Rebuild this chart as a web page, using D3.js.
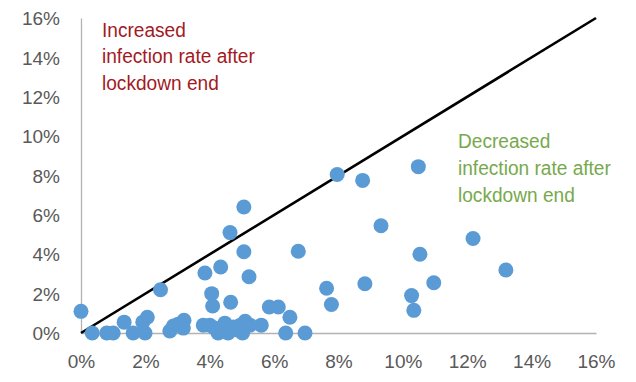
<!DOCTYPE html>
<html><head><meta charset="utf-8">
<script src="https://cdn.jsdelivr.net/npm/d3@7"></script>
<style>body{margin:0;background:#fff}svg{display:block}</style>
</head><body>
<script>
// Data: lockdown infection rate (x) vs after lockdown end (y), in %
const xValues = [0.0,0.35,0.8,1.0,1.34,1.62,1.99,1.92,2.06,2.47,2.76,2.87,3.02,3.2,3.18,3.85,4.34,4.06,4.09,4.65,4.63,5.06,5.06,5.22,3.8,4.0,4.15,4.26,4.47,4.57,4.73,4.95,5.02,5.1,5.25,5.6,5.85,6.13,6.49,6.36,6.96,6.75,7.63,7.78,7.96,8.75,10.48,9.32,12.18,10.53,8.82,10.96,10.27,10.34,13.2,4.4,4.85];
const yValues = [1.1,0.0,0.0,0.0,0.55,0.0,0.0,0.55,0.8,2.2,0.1,0.35,0.45,0.65,0.25,3.05,3.35,2.0,1.37,1.56,5.1,6.4,4.13,2.86,0.4,0.4,0.25,0.0,0.5,0.0,0.3,0.4,0.0,0.6,0.4,0.4,1.32,1.32,0.8,0.0,0.0,4.15,2.27,1.45,8.05,7.75,8.45,5.45,4.8,4.0,2.5,2.55,1.9,1.15,3.2,0.1,0.15];
const tickValues = [0,2,4,6,8,10,12,14,16];
const tickLabels = ["0%","2%","4%","6%","8%","10%","12%","14%","16%"];
const increasedLines = ["Increased","infection rate after","lockdown end"];
const decreasedLines = ["Decreased","infection rate after","lockdown end"];

const W = 636, H = 382;
const svg = d3.select("body").append("svg").attr("width", W).attr("height", H);
const x = d3.scaleLinear().domain([0,16]).range([81,596]);
const y = d3.scaleLinear().domain([0,16]).range([333,18]);
const font = "'Liberation Sans', Arial, sans-serif";

// axes
const xAxis = svg.append("g").attr("transform", `translate(0,${y(0)})`)
  .call(d3.axisBottom(x).tickValues(tickValues).tickSize(0).tickPadding(0).tickFormat((d,i)=>tickLabels[i]));
xAxis.select(".domain").attr("stroke","#b3b3b3").attr("stroke-width",1.3);
xAxis.selectAll("text").attr("font-family",font).attr("font-size",19).attr("fill","#595959").attr("dy",null).attr("y",35);

const yAxis = svg.append("g").attr("transform", `translate(${x(0)},0)`)
  .call(d3.axisLeft(y).tickValues(tickValues).tickSize(0).tickPadding(0).tickFormat((d,i)=>tickLabels[i]));
yAxis.select(".domain").attr("stroke","#b3b3b3").attr("stroke-width",1.3);
yAxis.selectAll("text").attr("font-family",font).attr("font-size",19).attr("fill","#595959").attr("x",-21).attr("dy","0.35em");

// diagonal
svg.append("line").attr("x1",x(0)).attr("y1",y(0)).attr("x2",x(16)).attr("y2",y(16))
  .attr("stroke","#000").attr("stroke-width",2.6);

// points
svg.append("g").selectAll("circle").data(xValues.map((v,i)=>[v,yValues[i]])).join("circle")
  .attr("cx",d=>x(d[0])).attr("cy",d=>y(d[1])).attr("r",7.5).attr("fill","#5b9bd5");

// annotations
const t1 = svg.append("text").attr("font-family",font).attr("font-size",21).attr("fill","#a31a1f")
  .attr("transform","translate(102,0) scale(0.91,1)");
t1.selectAll("tspan").data(increasedLines).join("tspan").attr("x",0).attr("y",(d,i)=>37+i*26.5).text(d=>d);
const t2 = svg.append("text").attr("font-family",font).attr("font-size",21).attr("fill","#77a94c")
  .attr("transform","translate(458,0) scale(0.91,1)");
t2.selectAll("tspan").data(decreasedLines).join("tspan").attr("x",0).attr("y",(d,i)=>148+i*27).text(d=>d);
</script>
</body></html>
